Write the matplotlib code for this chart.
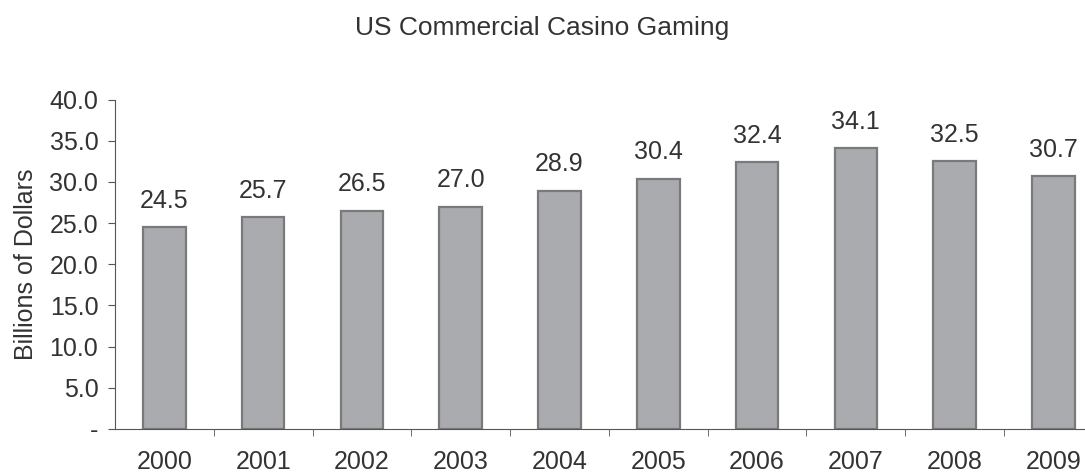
import numpy as np
from matplotlib import pyplot as plt

years = ['2000', '2001', '2002', '2003', '2004', '2005', '2006', '2007', '2008', '2009']
revenue = [24.5, 25.7, 26.5, 27.0, 28.9, 30.4, 32.4, 34.1, 32.5, 30.7]
yticks = [0, 5, 10, 15, 20, 25, 30, 35, 40]
ytick_labels = ['-', '5.0', '10.0', '15.0', '20.0', '25.0', '30.0', '35.0', '40.0']

plt.rcParams['font.family'] = ['Liberation Sans', 'DejaVu Sans']
txt = '#333333'

fig = plt.figure(figsize=(10.85, 4.75), dpi=100)
ax = fig.add_axes([115/1085, 1 - 429/475, 1 - 115/1085, (429 - 99.5)/475])

x = np.arange(len(years))
ax.bar(x, revenue, width=0.43, color='#aaabae', edgecolor='#7a7a7a', linewidth=1.6)

# value labels above the bars
for xi, v in zip(x, revenue):
    ax.annotate('%.1f' % v, (xi, v), xytext=(0, 14), textcoords='offset points',
                ha='center', va='baseline', fontsize=18, color=txt)

ax.set_xlim(-0.5, 9.32)
ax.set_ylim(0, 40)

ax.set_yticks(yticks)
ax.set_yticklabels(ytick_labels, fontsize=18, color=txt)
ax.tick_params(axis='y', length=5, pad=7, color='#555555')

ax.set_xticks(x)
ax.set_xticklabels(years, fontsize=18, color=txt)
ax.tick_params(axis='x', which='major', length=0, pad=15)
ax.set_xticks(x[:-1] + 0.5, minor=True)
ax.tick_params(axis='x', which='minor', length=5, color='#555555')

for s in ['top', 'right']:
    ax.spines[s].set_visible(False)
for s in ['left', 'bottom']:
    ax.spines[s].set_color('#555555')

ax.set_ylabel('Billions of Dollars', fontsize=18, color=txt, labelpad=8)
fig.text(0.5, 1 - 35/475, 'US Commercial Casino Gaming', ha='center', va='baseline',
         fontsize=19, color=txt)

fig.savefig('out.png', dpi=100)
